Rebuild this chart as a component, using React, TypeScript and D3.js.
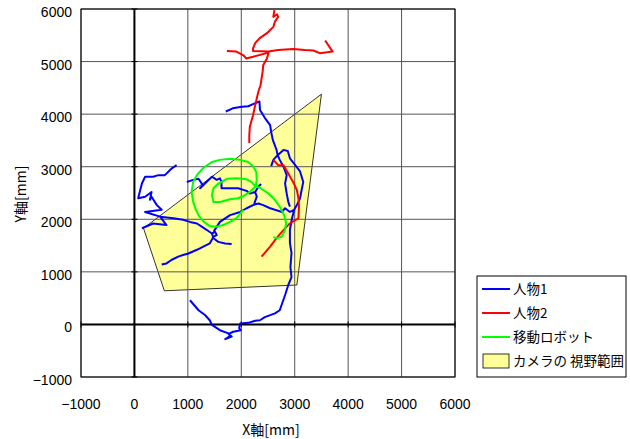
import React from "react";
import * as d3 from "d3";

type P = [number, number] | null;

const xTicks = [-1000, 0, 1000, 2000, 3000, 4000, 5000, 6000];
const yTicks = [-1000, 0, 1000, 2000, 3000, 4000, 5000, 6000];

// 人物1 (null = gap between tracked pieces)
const person1: P[] = [
  [1710, 4050], [1840, 4110], [2010, 4140], [2130, 4150], [2220, 4190], [2340, 4240],
  [2350, 4080], [2440, 3930], [2540, 3790], [2560, 3660], [2590, 3510], [2660, 3320],
  [2680, 3220], [2790, 3320], [2870, 3300], [2910, 3160], [3010, 3030], [3100, 2910],
  [3160, 2710], [3130, 2560], [3100, 2400], [3040, 2270], [2990, 2180], [2950, 2020],
  [2910, 1800], [2910, 1550], [2940, 1360], [2920, 1090], [2940, 900], [2880, 750],
  [2820, 560], [2720, 270], [2630, 210], [2440, 140], [2350, 80], [2260, 70],
  [2130, 30], [1980, 20], [1960, -70], [1990, -110], [1850, -140], [1760, -180],
  [1820, -230], [1700, -280], [1790, -220], [1760, -170], [1600, -110], [1450, -10],
  [1410, 80], [1320, 180], [1200, 270], [1040, 460],
  null,
  [2560, 3010], [2600, 3130], [2680, 3220], [2720, 3130], [2790, 3000], [2850, 2840],
  [2820, 2680], [2850, 2490], [2880, 2330], [2910, 2240],
  null,
  [1480, 1760], [1600, 1950], [1790, 2080], [1980, 2140], [2100, 2210], [2220, 2270],
  [2320, 2300], [2410, 2270], [2540, 2210], [2630, 2180], [2760, 2140], [2820, 2210],
  [2910, 2140], [2990, 2180],
  null,
  [980, 2710], [1100, 2750], [1200, 2770], [1280, 2650], [1230, 2590], [1320, 2680],
  [1450, 2810], [1540, 2750], [1600, 2780], [1630, 2710], [1630, 2590], [1790, 2590],
  [1940, 2590], [2100, 2540], [2160, 2490], [2260, 2520], [2290, 2430], [2240, 2290],
  null,
  [2260, 2520], [2320, 2620], [2370, 2670],
  null,
  [790, 3030], [700, 2970], [570, 2840], [450, 2840], [350, 2810], [200, 2810],
  [140, 2680], [70, 2400], [200, 2430], [320, 2520], [290, 2370], [320, 2430],
  [420, 2270], [510, 2180], [200, 2140], [480, 2050], [600, 1890], [350, 1920], [140, 1830],
  null,
  [480, 2050], [730, 2020], [910, 1990], [1040, 1950], [1170, 1920], [1260, 1860],
  [1350, 1800], [1450, 1730], [1480, 1640], [1570, 1570], [1700, 1540], [1820, 1530],
  null,
  [1450, 1730], [1510, 1760], [1540, 1700], [1480, 1670], [1410, 1540], [1290, 1480],
  [1170, 1420], [1010, 1350], [910, 1320], [820, 1290], [700, 1230], [600, 1160], [510, 1140],
];

// 人物2
const person2: P[] = [
  [2620, 5980], [2600, 5850], [2670, 5900], [2690, 5850], [2630, 5760], [2600, 5660],
  [2480, 5540], [2340, 5440], [2260, 5350], [2220, 5250], [2220, 5200], [2510, 5190],
  [2690, 5220], [2970, 5240], [3190, 5220], [3350, 5210], [3470, 5160], [3710, 5190],
  [3570, 5400],
  null,
  [1730, 5200], [1910, 5190], [2040, 5120], [2090, 5060], [2220, 5090], [2510, 5170],
  [2480, 5060], [2410, 4930], [2400, 4810], [2380, 4680], [2360, 4550], [2320, 4430],
  [2290, 4300], [2260, 4170], [2220, 3980], [2160, 3760], [2150, 3600], [2150, 3450],
  null,
  [2600, 3130], [2690, 3030], [2790, 3030], [2880, 2870], [2970, 2710], [3040, 2560],
  [3070, 2400], [3080, 2240], [3070, 2020], [2910, 1920], [2850, 1860], [2760, 1760],
  [2660, 1640], [2540, 1480], [2380, 1290],
];

// 移動ロボット
const robot: P[] = [
  [2040, 2180], [1980, 2110], [1910, 2020], [1790, 1950], [1660, 1890], [1540, 1860],
  [1410, 1870], [1300, 1950], [1210, 2060], [1150, 2180], [1100, 2330], [1070, 2520],
  [1100, 2710], [1170, 2840], [1280, 2970], [1450, 3090], [1600, 3130], [1790, 3150],
  [1980, 3130], [2130, 3090], [2220, 3010], [2280, 2900], [2290, 2750], [2270, 2630],
  [2160, 2520], [2070, 2460], [1940, 2400], [1790, 2380], [1600, 2330], [1480, 2330],
  [1450, 2460], [1480, 2590], [1570, 2680], [1730, 2770], [1910, 2780], [2100, 2760],
  [2190, 2710], [2260, 2630], [2350, 2600], [2510, 2490], [2630, 2370], [2720, 2240],
  [2800, 2080], [2840, 1930], [2820, 1800], [2760, 1670], [2660, 1640], [2600, 1660],
];

// カメラの視野範囲
const cameraView: [number, number][] = [
  [170, 1830], [560, 640], [3040, 750], [3500, 4380],
];

const legendItems = ["人物1", "人物2", "移動ロボット", "カメラの 視野範囲"];
const legendColors = ["#0000FF", "#FF0000", "#00FF00", "#FFFF99"];

const W = 630;
const H = 439;
const font = "'Liberation Sans', Arial, sans-serif";
const jpFont = "'Noto Sans CJK JP', sans-serif";

export default function App() {
  const x = d3.scaleLinear().domain([-1000, 6000]).range([81, 455]);
  const y = d3.scaleLinear().domain([-1000, 6000]).range([377, 9]);

  const line = d3
    .line<P>()
    .defined((d) => d != null)
    .x((d) => x((d as [number, number])[0]))
    .y((d) => y((d as [number, number])[1]));

  const poly = "M" + cameraView.map((d) => `${x(d[0])},${y(d[1])}`).join("L") + "Z";
  const fmt = (v: number) => (v < 0 ? "\u2212" + Math.abs(v) : String(v));

  const series = [
    { data: person1, color: legendColors[0] },
    { data: person2, color: legendColors[1] },
    { data: robot, color: legendColors[2] },
  ];

  const lx = 477;
  const ly = 276;

  return (
    <svg
      width={W}
      height={H}
      style={{ position: "absolute", left: 0, top: 0, background: "#fff" }}
    >
      <path d={poly} fill="#FFFF99" stroke="#000" strokeWidth={0.8} />

      {xTicks.map((t) => (
        <line key={"gx" + t} x1={x(t)} x2={x(t)} y1={y(-1000)} y2={y(6000)}
          stroke="#555" strokeWidth={1} />
      ))}
      {yTicks.map((t) => (
        <line key={"gy" + t} y1={y(t)} y2={y(t)} x1={x(-1000)} x2={x(6000)}
          stroke="#555" strokeWidth={1} />
      ))}
      <rect x={x(-1000)} y={y(6000)} width={x(6000) - x(-1000)} height={y(-1000) - y(6000)}
        fill="none" stroke="#000" strokeWidth={1} />

      {/* axes through 0 */}
      <line x1={x(0)} x2={x(0)} y1={y(-1000)} y2={y(6000)} stroke="#000" strokeWidth={2} />
      <line y1={y(0)} y2={y(0)} x1={x(-1000)} x2={x(6000)} stroke="#000" strokeWidth={2} />
      {xTicks.map((t) => (
        <line key={"tx" + t} x1={x(t)} x2={x(t)} y1={y(0) - 3} y2={y(0) + 3} stroke="#000" />
      ))}
      {yTicks.map((t) => (
        <line key={"ty" + t} y1={y(t)} y2={y(t)} x1={x(0) - 3} x2={x(0) + 3} stroke="#000" />
      ))}

      {series.map((s, i) => (
        <path key={i} d={line(s.data) || ""} fill="none" stroke={s.color}
          strokeWidth={2} strokeLinejoin="round" />
      ))}

      {yTicks.map((t) => (
        <text key={"ly" + t} x={72} y={y(t) + 8} textAnchor="end" fontFamily={font}
          fontSize={14} fill="#000">{fmt(t)}</text>
      ))}
      {xTicks.map((t) => (
        <text key={"lx" + t} x={x(t)} y={409} textAnchor="middle" fontFamily={font}
          fontSize={14} fill="#000">{fmt(t)}</text>
      ))}

      <text x={271} y={435} textAnchor="middle" fontFamily={jpFont} fontSize={14}>X軸[mm]</text>
      <text transform="translate(26,194) rotate(-90)" textAnchor="middle" fontFamily={jpFont}
        fontSize={14}>Y軸[mm]</text>

      <rect x={lx} y={ly} width={149} height={101} fill="#fff" stroke="#000" strokeWidth={1} />
      {legendItems.map((name, i) => {
        const cy = ly + 13 + i * 24;
        return (
          <g key={name}>
            {i < 3 ? (
              <line x1={482} x2={510} y1={cy} y2={cy} stroke={legendColors[i]} strokeWidth={2} />
            ) : (
              <rect x={483} y={cy - 7} width={26} height={14} fill={legendColors[i]}
                stroke="#000" strokeWidth={0.8} />
            )}
            <text x={513} y={cy + 5} fontFamily={jpFont} fontSize={13.5} fill="#000">{name}</text>
          </g>
        );
      })}
    </svg>
  );
}
